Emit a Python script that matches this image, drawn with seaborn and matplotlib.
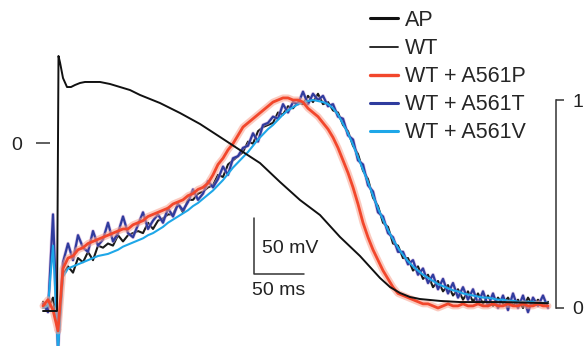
import matplotlib
matplotlib.use("Agg")
import matplotlib.pyplot as plt
import matplotlib.patheffects as pe
import seaborn as sns

# ---------------- data ----------------
time_ms = list(range(-15, 491, 5))  # ms, relative to AP upstroke

wt = [0.03, 0.00, 0.05, -0.12, 0.16, 0.20, 0.17, 0.24, 0.22, 0.27,
      0.23, 0.30, 0.29, 0.31, 0.30, 0.35, 0.32, 0.35, 0.36, 0.37,
      0.36, 0.41, 0.38, 0.42, 0.43, 0.45, 0.45, 0.50, 0.46, 0.52,
      0.52, 0.55, 0.56, 0.58, 0.59, 0.64, 0.63, 0.69, 0.71, 0.73,
      0.75, 0.80, 0.79, 0.85, 0.87, 0.88, 0.89, 0.94, 0.93, 0.97,
      0.96, 0.99, 0.98, 1.02, 0.99, 1.03, 0.98, 0.99, 0.95, 0.94,
      0.88, 0.85, 0.78, 0.74, 0.66, 0.62, 0.53, 0.49, 0.41, 0.39,
      0.31, 0.30, 0.24, 0.24, 0.18, 0.20, 0.14, 0.16, 0.10, 0.13,
      0.08, 0.11, 0.06, 0.09, 0.04, 0.08, 0.03, 0.07, 0.02, 0.06,
      0.01, 0.05, 0.02, 0.05, 0.01, 0.04, 0.00, 0.05, 0.01, 0.04,
      0.01, 0.03]

a561p = [0.01, 0.04, -0.01, -0.11, 0.19, 0.24, 0.25, 0.28, 0.29, 0.31,
         0.32, 0.33, 0.34, 0.35, 0.36, 0.37, 0.38, 0.38, 0.40, 0.41,
         0.42, 0.44, 0.45, 0.46, 0.47, 0.48, 0.50, 0.51, 0.52, 0.54,
         0.55, 0.57, 0.58, 0.60, 0.64, 0.69, 0.72, 0.76, 0.79, 0.83,
         0.87, 0.89, 0.91, 0.93, 0.95, 0.97, 0.99, 1.00, 1.01, 1.01,
         1.00, 1.00, 0.99, 0.96, 0.94, 0.92, 0.89, 0.86, 0.82, 0.77,
         0.71, 0.65, 0.58, 0.50, 0.41, 0.34, 0.28, 0.23, 0.18, 0.14,
         0.10, 0.07, 0.06, 0.05, 0.04, 0.03, 0.02, 0.02, 0.01, 0.00,
         0.01, 0.02, 0.01, 0.01, 0.02, 0.01, 0.01, 0.02, 0.01, 0.01,
         0.02, 0.01, 0.01, 0.02, 0.01, 0.01, 0.02, 0.01, 0.01, 0.02,
         0.01, 0.01]

a561t = [0.02, -0.02, 0.45, -0.20, 0.22, 0.31, 0.23, 0.35, 0.29, 0.27,
         0.37, 0.30, 0.33, 0.41, 0.32, 0.36, 0.44, 0.36, 0.34, 0.40,
         0.46, 0.38, 0.42, 0.45, 0.41, 0.48, 0.44, 0.50, 0.47, 0.51,
         0.57, 0.52, 0.55, 0.61, 0.58, 0.62, 0.68, 0.64, 0.72, 0.73,
         0.77, 0.78, 0.84, 0.80, 0.88, 0.89, 0.92, 0.91, 0.98, 0.94,
         0.99, 0.98, 1.04, 0.98, 1.03, 1.00, 1.02, 0.97, 0.98, 0.92,
         0.91, 0.83, 0.81, 0.71, 0.69, 0.59, 0.56, 0.46, 0.44, 0.36,
         0.34, 0.27, 0.27, 0.21, 0.23, 0.16, 0.19, 0.12, 0.16, 0.09,
         0.14, 0.07, 0.12, 0.05, 0.10, 0.04, 0.09, 0.02, 0.08, 0.01,
         0.07, 0.00, 0.06, -0.01, 0.07, 0.00, 0.06, -0.02, 0.05, 0.01,
         0.06, 0.00]

a561v = [0.00, 0.01, 0.30, -0.20, 0.15, 0.19, 0.20, 0.21, 0.22, 0.23,
         0.24, 0.25, 0.255, 0.26, 0.27, 0.28, 0.295, 0.305, 0.315, 0.325,
         0.335, 0.35, 0.36, 0.375, 0.39, 0.41, 0.425, 0.44, 0.455, 0.47,
         0.49, 0.505, 0.525, 0.545, 0.565, 0.59, 0.615, 0.645, 0.675, 0.70,
         0.725, 0.75, 0.78, 0.81, 0.835, 0.86, 0.88, 0.905, 0.93, 0.95,
         0.965, 0.98, 0.99, 0.995, 1.0, 0.995, 0.99, 0.98, 0.96, 0.93,
         0.885, 0.84, 0.785, 0.725, 0.665, 0.605, 0.54, 0.48, 0.425, 0.375,
         0.33, 0.29, 0.255, 0.225, 0.20, 0.18, 0.16, 0.145, 0.13, 0.115,
         0.105, 0.095, 0.085, 0.08, 0.07, 0.065, 0.06, 0.055, 0.05, 0.05,
         0.045, 0.04, 0.04, 0.035, 0.035, 0.03, 0.03, 0.03, 0.03, 0.025,
         0.025, 0.025]

ap_time_ms = [-15, -1, 0.5, 2, 5, 9, 13, 17, 22, 27, 32, 42, 52, 62, 72, 82,
              102, 122, 142, 162, 182, 202, 222, 242, 262, 282, 302, 322,
              332, 342, 352, 362, 382, 402, 442, 490]
ap_mv = [-150, -150, 77.7, 72, 58, 50, 50, 51.8, 53.6, 54.5, 54.5, 54.5,
         52.7, 50, 47.3, 42.9, 35.7, 26.8, 17, 5.4, -6.3, -17.9, -34.8,
         -50.9, -64.3, -83.9, -100.9, -120.5, -128.6, -133.9, -137.5,
         -139.3, -141, -142, -142, -143]

labels = ["AP", "WT", "WT + A561P", "WT + A561T", "WT + A561V"]
current_ticks = [0, 1]
voltage_ticks = [0]
scale_mv = 50
scale_ms = 50

# ---------------- styling ----------------
sns.set_theme(style="white")
plt.rcParams["font.family"] = ["Liberation Sans", "DejaVu Sans"]

c_ap = "#111111"
c_wt = "#1a1a1a"
c_p = "#f2472c"
c_t = "#2f3c9e"
c_v = "#1ea7e8"

fig = plt.figure(figsize=(5.87, 3.46), dpi=100)
ax = fig.add_axes([0, 0, 1, 1])
ax.set_facecolor("none")
ax_ap = ax.twinx()
ax_ap.set_position([0, 0, 1, 1])
ax_ap.set_facecolor("none")

kw = dict(estimator=None, sort=False, ax=ax)
sns.lineplot(x=time_ms, y=wt, color=c_wt, lw=1.5, **kw)
sns.lineplot(x=time_ms, y=a561t, color=c_t, lw=1.6, **kw)
ax.lines[-1].set_path_effects([pe.Stroke(linewidth=2.6, foreground="#c9a3d6", alpha=0.6), pe.Normal()])
sns.lineplot(x=time_ms, y=a561v, color=c_v, lw=1.5, **kw)
sns.lineplot(x=time_ms, y=a561p, color=c_p, lw=2.0, **kw)
ax.lines[-1].set_path_effects([pe.Stroke(linewidth=5, foreground="#f9a08c", alpha=0.55), pe.Normal()])
sns.lineplot(x=ap_time_ms, y=ap_mv, color=c_ap, lw=1.4, estimator=None, sort=False, ax=ax_ap)

# scale bars (50 mV, 50 ms)
sb_t0, sb_v0 = 196, -117
sns.lineplot(x=[sb_t0, sb_t0, sb_t0 + scale_ms], y=[sb_v0 + scale_mv, sb_v0, sb_v0],
             color="#333333", lw=1.1, estimator=None, sort=False, ax=ax_ap)
ax_ap.text(sb_t0 + 8, sb_v0 + scale_mv / 2 - 2, f"{scale_mv} mV", fontsize=14,
           va="center", ha="left", color="#222222")
ax_ap.text(sb_t0 - 2, sb_v0 - 15, f"{scale_ms} ms", fontsize=14,
           va="center", ha="left", color="#222222")

# limits
ax.set_xlim(-58, 529)
ax.set_ylim(-0.1827, 1.4808)
ax_ap.set_ylim(-181.25, 127.7)

# right bracket axis for normalized current
for s in ["top", "bottom", "left"]:
    ax.spines[s].set_visible(False)
ax.spines["right"].set_visible(True)
ax.spines["right"].set_position(("data", 498))
ax.spines["right"].set_bounds(0, 1)
ax.spines["right"].set_color("#333333")
ax.spines["right"].set_linewidth(1.1)
ax.yaxis.set_ticks_position("right")
ax.set_yticks(current_ticks)
ax.set_yticklabels([str(v) for v in current_ticks])
ax.tick_params(axis="y", which="both", direction="out", length=6, width=1.1,
               color="#333333", pad=6, labelsize=14, labelcolor="#222222",
               left=False, right=True, labelleft=False, labelright=True)
ax.set_xticks([])
ax.set_xlabel("")
ax.set_ylabel("")

# left voltage tick (0 mV)
for s in ["top", "bottom", "left", "right"]:
    ax_ap.spines[s].set_visible(False)
ax_ap.spines["left"].set_position(("data", -8))
ax_ap.yaxis.tick_left()
ax_ap.set_yticks(voltage_ticks)
ax_ap.set_yticklabels([str(v) for v in voltage_ticks])
ax_ap.tick_params(axis="y", direction="out", length=10, width=1.1, color="#333333",
                  pad=10, labelsize=14, labelcolor="#222222",
                  left=True, right=False, labelleft=True, labelright=False)
ax_ap.set_xticks([])
ax_ap.set_xlabel("")
ax_ap.set_ylabel("")

# legend
handles = [ax_ap.lines[0], ax.lines[0], ax.lines[3], ax.lines[1], ax.lines[2]]
leg = fig.legend(handles, labels, loc="upper left", bbox_to_anchor=(370 / 587, 1 - 10 / 346),
                 frameon=False, fontsize=15.5, handlelength=1.3, handletextpad=0.33,
                 labelspacing=0.33, borderpad=0, borderaxespad=0)
lw_leg = [2.2, 1.3, 2.4, 2.2, 2.2]
for h, w in zip(leg.legend_handles, lw_leg):
    h.set_path_effects([])
    h.set_linewidth(w)

fig.savefig("out.png", dpi=100)
